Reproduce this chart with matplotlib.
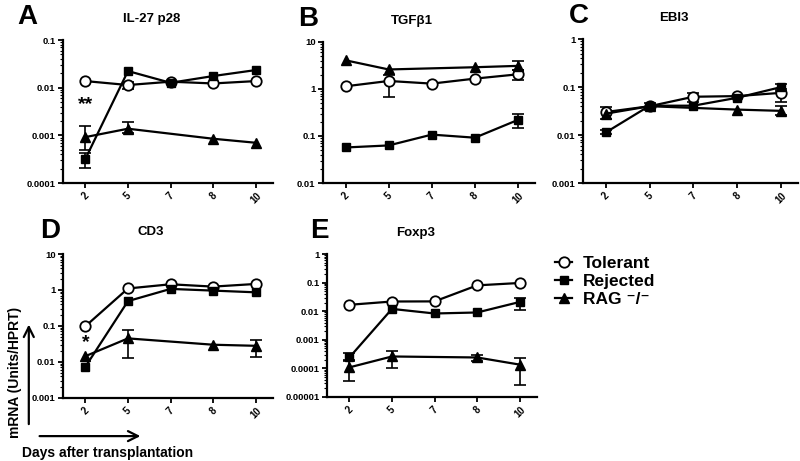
import numpy as np
import matplotlib
matplotlib.use("Agg")
import matplotlib.pyplot as plt
from matplotlib.ticker import LogLocator, FuncFormatter, NullFormatter

plt.rcParams['font.family'] = ['Liberation Sans', 'DejaVu Sans']
plt.rcParams['font.weight'] = 'bold'

nan = np.nan
days = ['2', '5', '7', '8', '10']
series = ['Tolerant', 'Rejected', 'RAG \u207b/\u207b']

# A: IL-27 p28
a_tol = [0.0138, 0.0114, 0.0134, 0.0123, 0.0138]
a_tol_lo = [nan, 0.0095, nan, nan, nan]
a_tol_hi = [nan, 0.0135, nan, nan, nan]
a_rej = [0.00032, 0.0224, 0.0127, 0.0176, 0.0235]
a_rej_lo = [0.00021, nan, nan, nan, nan]
a_rej_hi = [0.00042, nan, nan, nan, nan]
a_rag = [0.00092, 0.00138, nan, 0.00085, 0.0007]
a_rag_lo = [0.0005, 0.0011, nan, nan, nan]
a_rag_hi = [0.00155, 0.0019, nan, nan, nan]

# B: TGFb1
b_tol = [1.14, 1.48, 1.3, 1.66, 2.05]
b_tol_lo = [nan, 0.68, nan, nan, 1.55]
b_tol_hi = [nan, 1.95, nan, nan, 2.5]
b_rej = [0.057, 0.063, 0.107, 0.092, 0.22]
b_rej_lo = [nan, nan, nan, nan, 0.145]
b_rej_hi = [nan, nan, nan, nan, 0.3]
b_rag = [4.07, 2.6, nan, 2.9, 3.1]
b_rag_lo = [nan, nan, nan, nan, 2.5]
b_rag_hi = [nan, nan, nan, nan, 3.9]

# C: EBI3
c_tol = [0.0303, 0.040, 0.063, 0.065, 0.076]
c_tol_lo = [0.022, nan, 0.05, nan, 0.05]
c_tol_hi = [0.038, nan, 0.075, nan, 0.09]
c_rej = [0.0114, 0.041, 0.041, 0.060, 0.100]
c_rej_lo = [0.0105, nan, nan, nan, 0.085]
c_rej_hi = [0.0125, nan, nan, nan, 0.115]
c_rag = [0.028, 0.040, nan, 0.034, 0.032]
c_rag_lo = [nan, 0.034, nan, nan, 0.026]
c_rag_hi = [nan, 0.047, nan, nan, 0.040]

# D: CD3
d_tol = [0.098, 1.1, 1.44, 1.24, 1.47]
d_tol_lo = [nan] * 5
d_tol_hi = [nan] * 5
d_rej = [0.0073, 0.49, 1.07, 0.96, 0.86]
d_rej_lo = [nan] * 5
d_rej_hi = [nan] * 5
d_rag = [0.0144, 0.045, nan, 0.030, 0.028]
d_rag_lo = [nan, 0.013, nan, nan, 0.014]
d_rag_hi = [nan, 0.075, nan, nan, 0.040]

# E: Foxp3
e_tol = [0.0167, 0.0218, 0.022, 0.080, 0.097]
e_tol_lo = [nan] * 5
e_tol_hi = [nan] * 5
e_rej = [0.00024, 0.012, 0.0083, 0.009, 0.021]
e_rej_lo = [0.00018, nan, nan, nan, 0.011]
e_rej_hi = [0.00035, nan, nan, nan, 0.03]
e_rag = [0.000108, 0.00026, nan, 0.00024, 0.000135]
e_rag_lo = [0.000036, 0.0001, nan, 0.00018, 0.000026]
e_rag_hi = [0.0002, 0.0004, nan, 0.00029, 0.00023]

# letter, title, y range, axes box, letter x (fig px), data
panels = [
    ('A', 'IL-27 p28', (1e-4, 0.1), [0.079, 0.603, 0.262, 0.310], 17,
     [(a_tol, a_tol_lo, a_tol_hi), (a_rej, a_rej_lo, a_rej_hi), (a_rag, a_rag_lo, a_rag_hi)]),
    ('B', 'TGF\u03b21', (0.01, 10), [0.404, 0.603, 0.265, 0.306], 298,
     [(b_tol, b_tol_lo, b_tol_hi), (b_rej, b_rej_lo, b_rej_hi), (b_rag, b_rag_lo, b_rag_hi)]),
    ('C', 'EBI3', (0.001, 1), [0.729, 0.603, 0.269, 0.312], 569,
     [(c_tol, c_tol_lo, c_tol_hi), (c_rej, c_rej_lo, c_rej_hi), (c_rag, c_rag_lo, c_rag_hi)]),
    ('D', 'CD3', (0.001, 10), [0.079, 0.137, 0.262, 0.312], 40,
     [(d_tol, d_tol_lo, d_tol_hi), (d_rej, d_rej_lo, d_rej_hi), (d_rag, d_rag_lo, d_rag_hi)]),
    ('E', 'Foxp3', (1e-5, 1), [0.409, 0.139, 0.262, 0.310], 310,
     [(e_tol, e_tol_lo, e_tol_hi), (e_rej, e_rej_lo, e_rej_hi), (e_rag, e_rag_lo, e_rag_hi)]),
]

# significance marks: panel letter -> (day index, y, text)
stars = {'A': (0, 0.0045, '**'), 'D': (0, 0.034, '*')}

styles = [
    dict(marker='o', mfc='white', mec='black', ms=7.5, mew=1.3),
    dict(marker='s', mfc='black', mec='black', ms=6.3),
    dict(marker='^', mfc='black', mec='black', ms=6.5),
]


def decimal(v, p):
    v = float(f'{v:.3e}')
    return np.format_float_positional(v, trim='-')


fig = plt.figure(figsize=(8, 4.61), dpi=100)
handles = []
for letter, title, ylim, pos, lx, data in panels:
    ax = fig.add_axes(pos)
    x = np.arange(len(days))
    for (vals, lo, hi), st in zip(data, styles):
        vals = np.array(vals, float)
        lo = np.array(lo, float)
        hi = np.array(hi, float)
        m = ~np.isnan(vals)
        h, = ax.plot(x[m], vals[m], color='black', lw=1.6, zorder=3, **st)
        e = ~np.isnan(lo)
        if e.any():
            ax.errorbar(x[e], vals[e], yerr=[vals[e] - lo[e], hi[e] - vals[e]],
                        fmt='none', ecolor='black', elinewidth=1.2, capsize=4,
                        capthick=1.2, zorder=2)
        if letter == 'A':
            handles.append(h)
    ax.set_yscale('log')
    ax.set_ylim(*ylim)
    ax.set_xlim(-0.52, 4.4)
    ax.set_xticks(x)
    ax.set_xticklabels(days, rotation=45, fontsize=7, fontweight='bold')
    ax.yaxis.set_major_locator(LogLocator(base=10, numticks=12))
    ax.yaxis.set_minor_locator(LogLocator(base=10, subs=np.arange(2, 10), numticks=12))
    ax.yaxis.set_major_formatter(FuncFormatter(decimal))
    ax.yaxis.set_minor_formatter(NullFormatter())
    for t in ax.get_yticklabels():
        t.set_fontsize(6.8)
        t.set_fontweight('bold')
    for s in ['top', 'right']:
        ax.spines[s].set_visible(False)
    for s in ['left', 'bottom']:
        ax.spines[s].set_linewidth(1.6)
    ax.tick_params(axis='both', which='major', length=3.5, width=1.3, pad=2)
    ax.tick_params(axis='y', which='minor', length=2, width=0.8)
    ax.text(0.42, 1.15, title, transform=ax.transAxes, ha='center', va='center',
            fontsize=9.5, fontweight='bold')
    bb = ax.get_position()
    fig.text(lx / 800, bb.y1 + 0.05, letter, fontsize=20, fontweight='bold',
             ha='left', va='center')
    if letter in stars:
        i, yv, txt = stars[letter]
        ax.text(i, yv, txt, ha='center', va='center', fontsize=14, fontweight='bold')

fig.legend(handles, series, loc='upper left', bbox_to_anchor=(0.674, 0.478),
           frameon=False, handlelength=1.0, handletextpad=0.6,
           labelspacing=0.15, prop={'weight': 'bold', 'size': 12.5})

# axis direction arrows and labels
fig.text(0.019, 0.193, 'mRNA (Units/HPRT)', rotation=90, ha='center', va='center',
         fontsize=10, fontweight='bold')
fig.text(0.134, 0.017, 'Days after transplantation', ha='center', va='center',
         fontsize=10, fontweight='bold')
arrow = dict(arrowstyle='->', lw=1.6, color='black', mutation_scale=18)
fig.add_artist(matplotlib.patches.FancyArrowPatch((0.036, 0.074), (0.036, 0.302),
                                                  transform=fig.transFigure, **arrow))
fig.add_artist(matplotlib.patches.FancyArrowPatch((0.046, 0.054), (0.179, 0.054),
                                                  transform=fig.transFigure, **arrow))

fig.savefig('out.png', dpi=100)
